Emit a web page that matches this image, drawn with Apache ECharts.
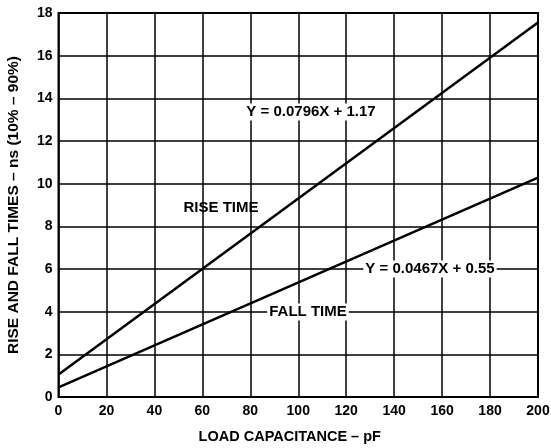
<!DOCTYPE html>
<html><head><meta charset="utf-8">
<script src="https://cdn.jsdelivr.net/npm/echarts@6/dist/echarts.min.js"></script>
<style>html,body{margin:0;padding:0;background:#fff}#c{width:551px;height:448px}</style>
</head><body><div id="c"></div>
<script>
const loadCap = [0, 200];
const riseTime = [1.05, 17.55];
const fallTime = [0.45, 10.28];
const xName = 'LOAD CAPACITANCE – pF';
const yName = 'RISE AND FALL TIMES – ns (10% – 90%)';
const labels = [
  {text: 'Y = 0.0796X + 1.17', x: 311, y: 112, bg: true},
  {text: 'RISE TIME', x: 221, y: 208, bg: false},
  {text: 'Y = 0.0467X + 0.55', x: 430, y: 269, bg: true},
  {text: 'FALL TIME', x: 308, y: 312, bg: true}
];
const chart = echarts.init(document.getElementById('c'), null, {renderer: 'canvas'});
const font = 'Liberation Sans, Arial, sans-serif';
chart.setOption({
  animation: false,
  grid: {left: 58.5, right: 13, top: 13, bottom: 51, show: true, borderColor: '#000', borderWidth: 2,
         containLabel: false, outerBoundsMode: 'none'},
  xAxis: {
    type: 'value', min: 0, max: 200, interval: 20,
    name: xName, nameLocation: 'middle', nameGap: 32,
    nameTextStyle: {fontFamily: font, fontWeight: 'bold', fontSize: 14.5, color: '#000', padding: [0, 17, 0, 0]},
    axisLine: {show: false}, axisTick: {show: false},
    axisLabel: {fontFamily: font, fontWeight: 'bold', fontSize: 14, color: '#000', margin: 7},
    splitLine: {lineStyle: {color: '#000', width: 1.5}}
  },
  yAxis: {
    type: 'value', min: 0, max: 18, interval: 2,
    name: yName, nameLocation: 'middle', nameGap: 37,
    nameTextStyle: {fontFamily: font, fontWeight: 'bold', fontSize: 15.5, color: '#000'},
    axisLine: {show: false}, axisTick: {show: false},
    axisLabel: {fontFamily: font, fontWeight: 'bold', fontSize: 14, color: '#000', margin: 6},
    splitLine: {lineStyle: {color: '#000', width: 1.5}}
  },
  series: [
    {type: 'line', data: loadCap.map((x, i) => [x, riseTime[i]]), symbol: 'none', lineStyle: {color: '#000', width: 2.5}, z: 3},
    {type: 'line', data: loadCap.map((x, i) => [x, fallTime[i]]), symbol: 'none', lineStyle: {color: '#000', width: 2.5}, z: 3}
  ],
  graphic: labels.map(l => ({
    type: 'text', x: l.x, y: l.y, z: 10,
    style: {
      text: l.text, fill: '#000', font: 'bold 15px ' + font,
      align: 'center', verticalAlign: 'middle',
      backgroundColor: l.bg ? '#fff' : 'transparent', padding: [1, 2]
    }
  }))
});
</script></body></html>
